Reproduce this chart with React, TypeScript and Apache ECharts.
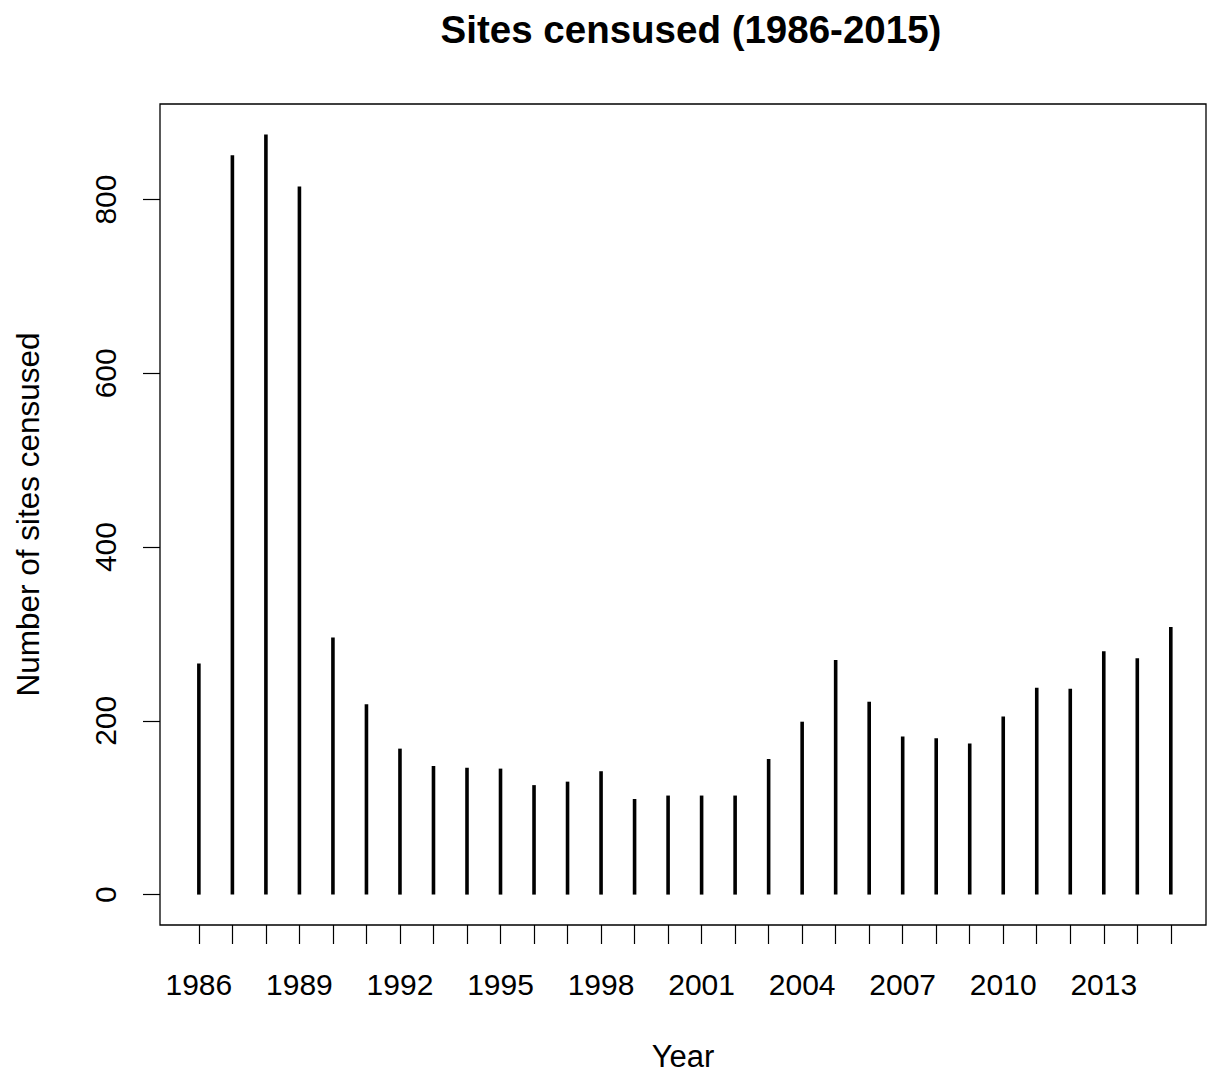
import React, { useEffect, useRef } from "react";
import * as echarts from "echarts";

const years: number[] = [
  1986, 1987, 1988, 1989, 1990, 1991, 1992, 1993, 1994, 1995,
  1996, 1997, 1998, 1999, 2000, 2001, 2002, 2003, 2004, 2005,
  2006, 2007, 2008, 2009, 2010, 2011, 2012, 2013, 2014, 2015,
];
const sites: number[] = [
  266, 851, 875, 815, 296, 219, 168, 148, 146, 145,
  126, 130, 142, 110, 114, 114, 114, 156, 199, 270,
  222, 182, 180, 174, 205, 238, 237, 280, 272, 308,
];
const xLabelYears: number[] = [1986, 1989, 1992, 1995, 1998, 2001, 2004, 2007, 2010, 2013];
const yTicks: number[] = [0, 200, 400, 600, 800];

const FONT = "'Liberation Sans', Arial, Helvetica, sans-serif";

export default function App() {
  const ref = useRef<HTMLDivElement>(null);
  useEffect(() => {
    if (!ref.current) return;
    const chart = echarts.init(ref.current, undefined, { renderer: "svg" });
    chart.setOption({
      animation: false,
      backgroundColor: "#ffffff",
      title: {
        text: "Sites censused (1986-2015)",
        left: 686,
        top: 5,
        textAlign: "center",
        textStyle: { fontFamily: FONT, fontSize: 38.5, fontWeight: "bold", color: "#000" },
      },
      grid: {
        left: 160,
        top: 104,
        width: 1046,
        height: 821,
        show: true,
        borderColor: "#000",
        borderWidth: 1.3,
        containLabel: false,
      },
      xAxis: {
        type: "value",
        min: 1984.84,
        max: 2016.05,
        name: "Year",
        nameLocation: "middle",
        nameGap: 116,
        nameTextStyle: { fontFamily: FONT, fontSize: 31, color: "#000" },
        axisLine: { show: false, onZero: false },
        splitLine: { show: false },
        axisTick: {
          show: true,
          inside: false,
          length: 19,
          customValues: years,
          lineStyle: { color: "#000", width: 1.2 },
        },
        axisLabel: {
          customValues: xLabelYears,
          margin: 44,
          fontFamily: FONT,
          fontSize: 30,
          color: "#000",
          formatter: (v: number) => String(v),
        },
      },
      yAxis: {
        type: "value",
        min: -35,
        max: 910,
        name: "Number of sites censused",
        nameLocation: "middle",
        nameRotate: 90,
        nameGap: 116,
        nameTextStyle: { fontFamily: FONT, fontSize: 31.5, color: "#000" },
        axisLine: { show: false, onZero: false },
        splitLine: { show: false },
        axisTick: {
          show: true,
          inside: false,
          length: 17,
          customValues: yTicks,
          lineStyle: { color: "#000", width: 1.2 },
        },
        axisLabel: {
          customValues: yTicks,
          rotate: 90,
          margin: 40,
          fontFamily: FONT,
          fontSize: 30,
          color: "#000",
        },
      },
      series: [
        {
          type: "bar",
          data: years.map((y, i) => [y, sites[i]]),
          barWidth: 3.6,
          itemStyle: { color: "#000" },
          silent: true,
        },
      ],
    });
    return () => chart.dispose();
  }, []);
  return (
    <div
      ref={ref}
      style={{ position: "fixed", left: 0, top: 0, width: 1208, height: 1077, background: "#fff" }}
    />
  );
}
